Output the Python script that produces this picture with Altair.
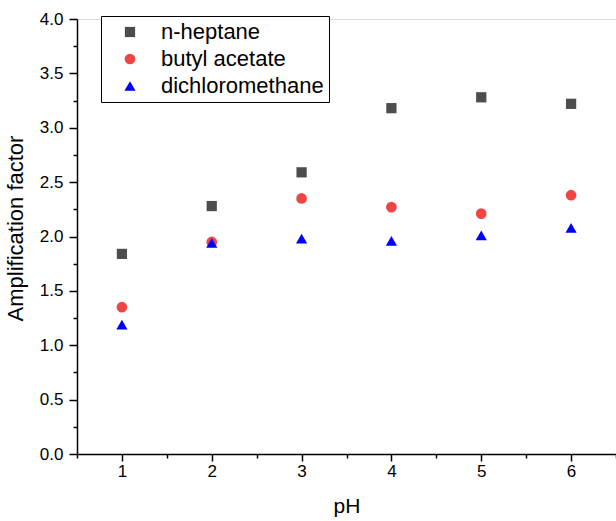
import altair as alt
import pandas as pd

ph = [1, 2, 3, 4, 5, 6]
series_names = ["n-heptane", "butyl acetate", "dichloromethane"]
heptane = [1.84, 2.28, 2.59, 3.18, 3.28, 3.22]
butyl = [1.35, 1.95, 2.35, 2.27, 2.21, 2.38]
dcm = [1.19, 1.94, 1.98, 1.96, 2.01, 2.08]
x_major = [1, 2, 3, 4, 5, 6]
x_minor = [0.5, 1.5, 2.5, 3.5, 4.5, 5.5, 6.5]
y_major = [0.0, 0.5, 1.0, 1.5, 2.0, 2.5, 3.0, 3.5, 4.0]
y_minor = [0.25, 0.75, 1.25, 1.75, 2.25, 2.75, 3.25, 3.75]

colors = ["#4d4d4d", "#f04545", "#0000ff"]
shapes = ["square", "circle", "triangle-up"]
marker_sizes = [105, 125, 180]

rows = []
for name, vals in zip(series_names, [heptane, butyl, dcm]):
    for p, v in zip(ph, vals):
        rows.append({"pH": p, "value": v, "series": name})
df = pd.DataFrame(rows)

FONT = "Liberation Sans"

xscale = alt.Scale(domain=[0.5, 6.5], nice=False, zero=False)
yscale = alt.Scale(domain=[0, 4.0], nice=False)

legend = alt.Legend(title=None, orient="none", legendX=24, legendY=-3,
                    labelFontSize=22, labelFont=FONT, labelColor="black",
                    labelLimit=400, padding=5, rowPadding=5,
                    symbolOffset=13, labelOffset=20, symbolStrokeWidth=0,
                    strokeColor="black", fillColor="white")

points = alt.Chart(df).mark_point(filled=True, opacity=1).encode(
    x=alt.X("pH:Q", scale=xscale,
            axis=alt.Axis(values=x_major, title="pH", orient="bottom", tickSize=7,
                          labelPadding=2, labelFontSize=17, titleFontSize=21,
                          titlePadding=16, grid=False, domainColor="black",
                          tickColor="black", domainWidth=1.5, tickWidth=1.5,
                          labelColor="black", titleColor="black",
                          titleFontWeight="normal", labelFont=FONT, titleFont=FONT)),
    y=alt.Y("value:Q", scale=yscale,
            axis=alt.Axis(values=y_major, format=".1f", title="Amplification factor",
                          orient="left", tickSize=8, labelPadding=6, labelFontSize=17,
                          titleFontSize=22, titlePadding=12, titleY=209, grid=False,
                          domainColor="black", tickColor="black", domainWidth=1.5,
                          tickWidth=1.5, labelColor="black", titleColor="black",
                          titleFontWeight="normal", labelFont=FONT, titleFont=FONT)),
    color=alt.Color("series:N", scale=alt.Scale(domain=series_names, range=colors),
                    legend=legend),
    shape=alt.Shape("series:N", scale=alt.Scale(domain=series_names, range=shapes),
                    legend=legend),
    size=alt.Size("series:N", scale=alt.Scale(domain=series_names, range=marker_sizes),
                  legend=legend),
)

minor_x_df = pd.DataFrame({"pH": x_minor})
minor_x = alt.Chart(minor_x_df).mark_point(opacity=0).encode(
    x=alt.X("pH:Q", scale=xscale,
            axis=alt.Axis(values=x_minor, labels=False, title=None, tickSize=4,
                          domain=False, grid=False, tickColor="black", tickWidth=1.5,
                          orient="bottom")),
)
minor_y_df = pd.DataFrame({"value": y_minor})
minor_y = alt.Chart(minor_y_df).mark_point(opacity=0).encode(
    y=alt.Y("value:Q", scale=yscale,
            axis=alt.Axis(values=y_minor, labels=False, title=None, tickSize=4,
                          domain=False, grid=False, tickColor="black", tickWidth=1.5,
                          orient="left")),
)

chart = alt.layer(points, minor_x, minor_y).resolve_axis(
    x="independent", y="independent"
).properties(
    width=539, height=435,
    autosize=alt.AutoSizeParams(type="none"),
    padding={"left": 77, "top": 19, "right": 0, "bottom": 67},
).configure_view(strokeWidth=0).configure(background="white")

chart.save("out.html", embed_options={"renderer": "svg", "actions": False})
